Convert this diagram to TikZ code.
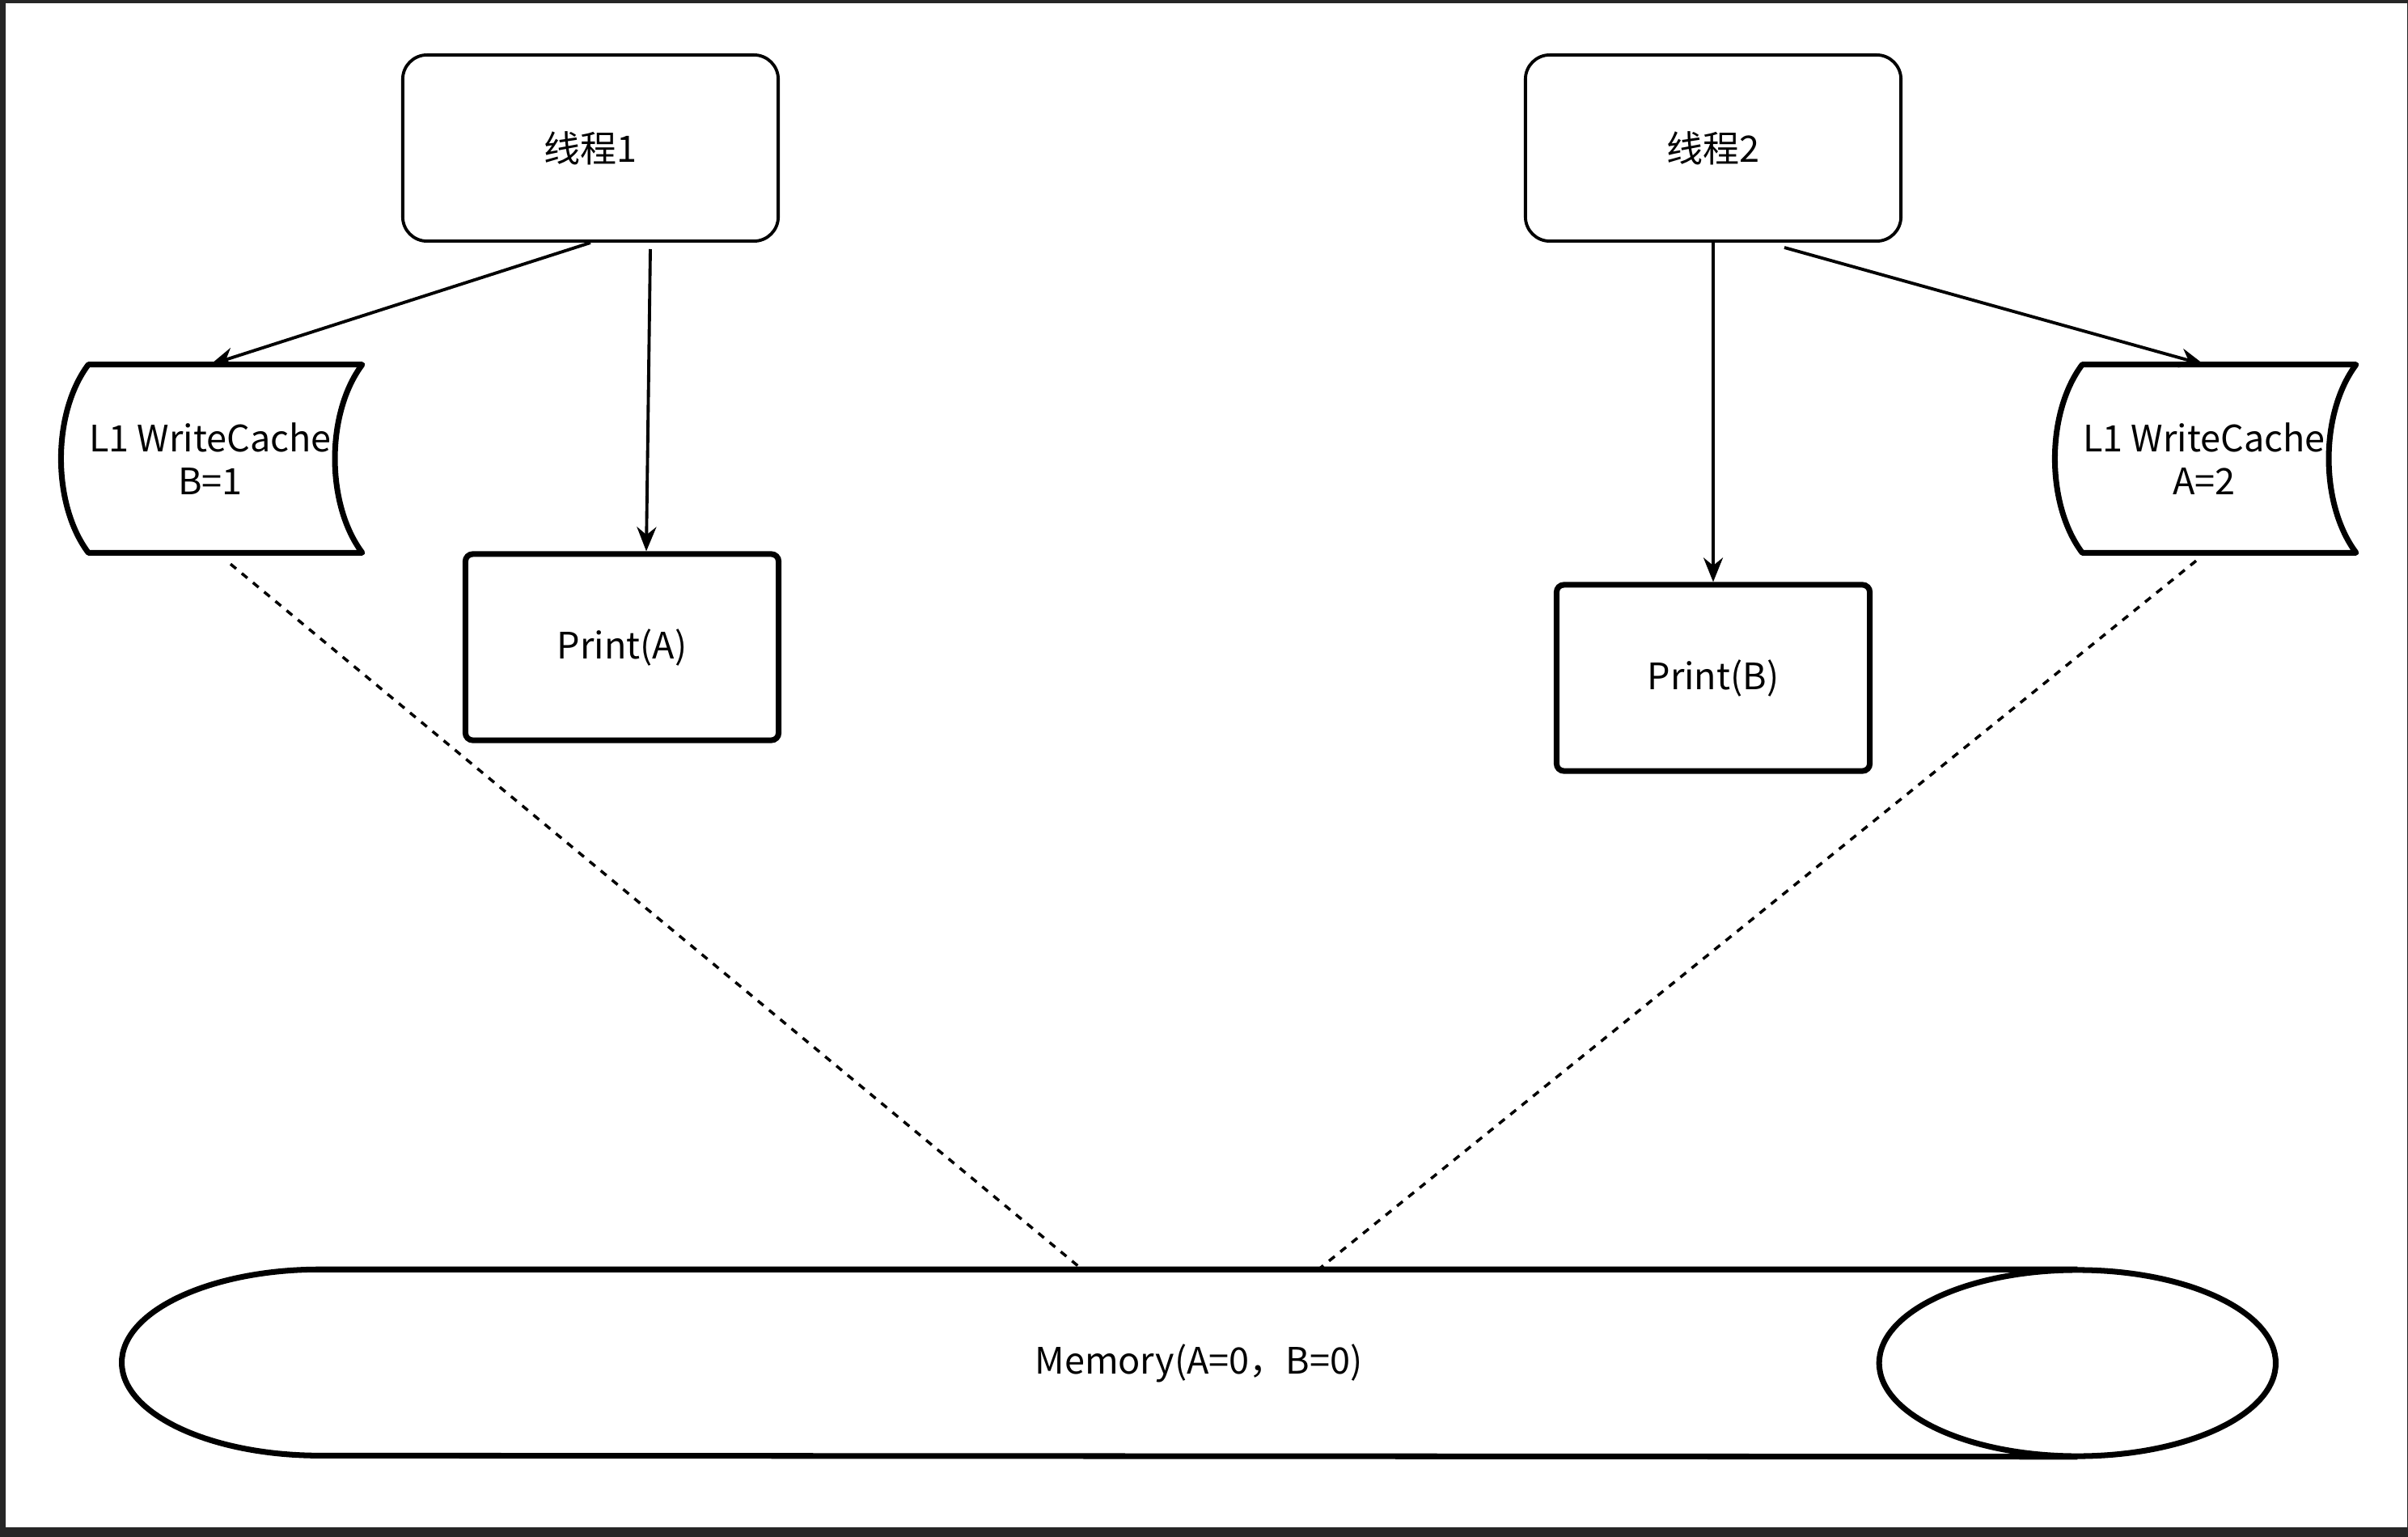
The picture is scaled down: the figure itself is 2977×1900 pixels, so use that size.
\documentclass[tikz,border=0pt]{standalone}
\usepackage{fontspec}
\setmainfont{Noto Sans CJK SC}
\usetikzlibrary{arrows.meta}
\definecolor{framegray}{HTML}{262626}

\begin{document}
\begin{tikzpicture}[x=0.01cm, y=-0.01cm,
        every node/.style={font=\fontsize{12.8pt}{15.1pt}\selectfont, align=center},
        thread/.style={draw, line width=1.1pt, rounded corners=0.3cm, minimum width=4.64cm, minimum height=2.3cm},
        printbox/.style={draw, line width=2pt, rounded corners=0.09cm, minimum width=3.87cm, minimum height=2.3cm},
        cache/.style={minimum width=3.74cm, minimum height=2.31cm, inner sep=0pt},
        storeline/.style={line width=2pt, line join=round},
        link/.style={line width=1.1pt, -{Stealth[length=0.3cm, width=0.24cm]}},
        flush/.style={line width=1pt, dash pattern=on 0.09cm off 0.09cm}]
        % frame
        \fill [framegray] (0,0) rectangle (2977,1900);
        \fill [white] (7,4) rectangle (2976,1888);
        \useasboundingbox (0,0) rectangle (2977,1900);

        % threads
        \node [thread] (t1) at (730,183) {线程1};
        \node [thread] (t2) at (2118,183) {线程2};

        % write caches
        \node [cache] (c1) at (260,567) {L1 WriteCache\\B=1};
        \draw [storeline] ([xshift=0.37cm]c1.north west) -- (c1.north east)
            .. controls +(-0.45cm,-0.6cm) and +(-0.45cm,0.6cm) .. (c1.south east)
            -- ([xshift=0.37cm]c1.south west)
            .. controls +(-0.45cm,0.6cm) and +(-0.45cm,-0.6cm) .. cycle;

        \node [cache] (c2) at (2725,567) {L1 WriteCache\\A=2};
        \draw [storeline] ([xshift=0.37cm]c2.north west) -- (c2.north east)
            .. controls +(-0.45cm,-0.6cm) and +(-0.45cm,0.6cm) .. (c2.south east)
            -- ([xshift=0.37cm]c2.south west)
            .. controls +(-0.45cm,0.6cm) and +(-0.45cm,-0.6cm) .. cycle;

        % prints
        \node [printbox] (pa) at (769,800) {Print(A)};
        \node [printbox] (pb) at (2118,838) {Print(B)};

        % memory
        \node [minimum width=26.6cm, minimum height=2.3cm] (mem) at (1482,1685) {Memory(A=0，B=0)};
        \draw [storeline] ([xshift=-2.45cm]mem.north east) -- ([xshift=2.45cm]mem.north west)
            arc [start angle=90, end angle=270, x radius=2.45cm, y radius=1.15cm]
            -- ([xshift=-2.45cm]mem.south east);
        \draw [storeline] ([xshift=-2.45cm]mem.east) ellipse [x radius=2.45cm, y radius=1.15cm];

        % arrows
        \draw [link] (t1.south) -- (c1.north);
        \draw [link] ([shift={(74,8)}]t1.south) -- ([xshift=0.3cm]pa.north);
        \draw [link] (t2.south) -- (pb.north);
        \draw [link] ([shift={(88,6)}]t2.south) -- (c2.north);

        % dashed
        \draw [flush] ([shift={(25,14)}]c1.south) -- ([xshift=-1.44cm]mem.north);
        \draw [flush] ([shift={(-10,10)}]c2.south) -- ([xshift=1.48cm]mem.north);
    \end{tikzpicture}
\end{document}
